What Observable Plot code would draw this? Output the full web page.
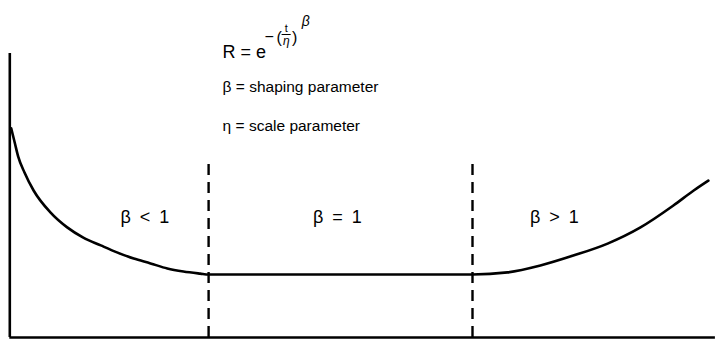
<!DOCTYPE html>
<html>
<head>
<meta charset="utf-8">
<script src="https://cdn.jsdelivr.net/npm/d3@7"></script>
<script src="https://cdn.jsdelivr.net/npm/@observablehq/plot@0.6"></script>
<style>
  html, body { margin: 0; padding: 0; background: #fff; }
  #chart svg { display: block; }
</style>
</head>
<body>
<div id="chart"></div>
<script>
// Bathtub curve (hazard rate vs time), arbitrary units
const time   = [0.1, 0.6, 1.1, 2.0, 3.3, 5.7, 8.1, 10.4, 12.9, 15.3, 17.6, 20.0, 22.4, 24.7, 27.1, 28.3,
                66.0, 71.0, 75.7, 80.4, 85.3, 90.0, 94.7, 97.6, 99.7];
const hazard = [69.7, 65.0, 60.3, 55.0, 49.0, 41.7, 36.7, 33.3, 30.7, 28.3, 26.3, 24.7, 23.0, 22.0, 21.3, 21.0,
                21.0, 21.7, 24.0, 27.3, 31.3, 36.7, 44.0, 49.0, 52.3];
const boundaries = [28.3, 66.0];
const regionLabels = ["β\u2002<\u20021", "β\u2002=\u20021", "β\u2002>\u20021"];
const regionCenters = [19.2, 46.7, 77.7];
const legendLines = ["β = shaping parameter", "η = scale parameter"];

const curve = time.map((t, i) => ({t, h: hazard[i]}));
const regions = regionLabels.map((label, i) => ({label, x: regionCenters[i]}));

const font = "'Liberation Sans', Arial, Helvetica, sans-serif";

const chart = Plot.plot({
  width: 718,
  height: 339,
  marginLeft: 0, marginRight: 0, marginTop: 0, marginBottom: 0,
  x: {domain: [0, 100], range: [10, 710], axis: null},
  y: {domain: [0, 100], range: [337, 37], axis: null},
  style: {fontFamily: font, background: "#fff", color: "#000"},
  marks: [
    // axes
    Plot.ruleX([-0.1], {y1: 0, y2: 94.7, stroke: "#000", strokeWidth: 2.6}),
    Plot.ruleY([0], {x1: -0.1, x2: 100.7, stroke: "#000", strokeWidth: 2.4}),
    // region boundaries
    Plot.ruleX(boundaries, {y1: 0, y2: 57.7, stroke: "#000", strokeWidth: 2.4, strokeDasharray: "11,7"}),
    // bathtub curve
    Plot.line(curve, {x: "t", y: "h", stroke: "#000", strokeWidth: 2.6, curve: "monotone-x"}),
    // region labels
    Plot.text(regions, {x: "x", y: 38.3, text: "label", fontSize: 18, textAnchor: "middle", lineAnchor: "bottom", fill: "#000"}),
    // definitions
    Plot.text([legendLines[0]], {x: 30.3, y: 81.7, text: d => d, fontSize: 15.5, textAnchor: "start", lineAnchor: "bottom", fill: "#000"}),
    Plot.text([legendLines[1]], {x: 30.3, y: 69.0, text: d => d, fontSize: 15.5, textAnchor: "start", lineAnchor: "bottom", fill: "#000"}),
    // formula R = e^{-(t/η)^β}
    Plot.text(["R = e"], {x: 30.3, y: 93.3, text: d => d, fontSize: 18, textAnchor: "start", lineAnchor: "bottom", fill: "#000"}),
    Plot.text(["−"], {x: 36.3, y: 100.3, text: d => d, fontSize: 16, textAnchor: "start", lineAnchor: "middle", fill: "#000"}),
    Plot.text(["("], {x: 38.0, y: 98.3, text: d => d, fontSize: 16, textAnchor: "start", lineAnchor: "bottom", fill: "#000"}),
    Plot.text(["t"], {x: 39.4, y: 101.7, text: d => d, fontSize: 11, textAnchor: "middle", lineAnchor: "bottom", fill: "#000"}),
    Plot.ruleY([101.0], {x1: 38.8, x2: 40.1, stroke: "#000", strokeWidth: 1}),
    Plot.text(["η"], {x: 39.4, y: 97.4, text: d => d, fontSize: 12, fontStyle: "italic", textAnchor: "middle", lineAnchor: "bottom", fill: "#000"}),
    Plot.text([")"], {x: 40.2, y: 98.3, text: d => d, fontSize: 16, textAnchor: "start", lineAnchor: "bottom", fill: "#000"}),
    Plot.text(["β"], {x: 41.6, y: 103.7, text: d => d, fontSize: 14, fontStyle: "italic", textAnchor: "start", lineAnchor: "bottom", fill: "#000"})
  ]
});
document.getElementById("chart").appendChild(chart);
</script>
</body>
</html>
